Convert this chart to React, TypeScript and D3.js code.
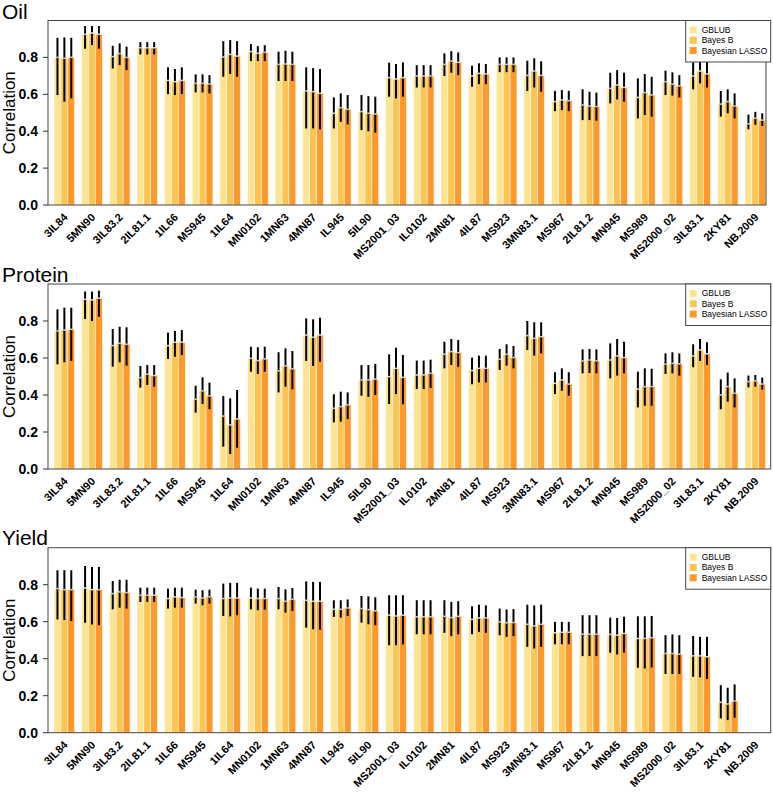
import React from "react";
import * as d3 from "d3";

const categories = ["3IL84","5MN90","3IL83.2","2IL81.1","1IL66","MS945","1IL64","MN0102","1MN63","4MN87","IL945","5IL90","MS2001_03","IL0102","2MN81","4IL87","MS923","3MN83.1","MS967","2IL81.2","MN945","MS989","MS2000_02","3IL83.1","2KY81","NB.2009"];
const methods = ["GBLUB", "Bayes B", "Bayesian LASSO"];
const methodColors = ["#FEE391", "#FEC44F", "#FE9929"];
const yTicks = [0, 0.2, 0.4, 0.6, 0.8];

// each entry: [lower, mean, upper]
type T = [number, number, number] | null;
const oilGblub: T[] = [[.596,.80,.906],[.847,.925,.97],[.74,.804,.863],[.816,.852,.883],[.601,.675,.746],[.61,.659,.708],[.695,.802,.888],[.78,.831,.872],[.672,.762,.831],[.415,.618,.746],[.415,.497,.583],[.406,.506,.596],[.587,.69,.771],[.637,.699,.758],[.699,.762,.822],[.641,.699,.755],[.72,.762,.80],[.618,.702,.782],[.509,.56,.619],[.46,.542,.627],[.551,.632,.717],[.469,.583,.686],[.596,.668,.728],[.627,.699,.773],[.479,.547,.618],[.41,.44,.49]];
const oilBayesB: T[] = [[.56,.795,.908],[.867,.932,.97],[.758,.82,.876],[.816,.852,.883],[.596,.668,.737],[.61,.659,.708],[.71,.816,.894],[.78,.822,.861],[.672,.764,.836],[.415,.614,.742],[.451,.527,.605],[.40,.497,.59],[.578,.683,.764],[.637,.699,.758],[.717,.78,.834],[.655,.713,.768],[.72,.762,.80],[.637,.726,.795],[.514,.569,.623],[.46,.536,.614],[.572,.65,.731],[.488,.609,.71],[.593,.655,.719],[.659,.726,.795],[.497,.56,.627],[.435,.47,.505]];
const oilLasso: T[] = [[.578,.80,.906],[.847,.925,.97],[.731,.80,.858],[.816,.852,.883],[.601,.675,.746],[.605,.655,.704],[.695,.807,.888],[.78,.827,.866],[.672,.762,.831],[.41,.605,.737],[.437,.518,.596],[.392,.493,.587],[.587,.69,.773],[.637,.699,.758],[.704,.773,.827],[.655,.71,.764],[.72,.762,.80],[.614,.702,.779],[.509,.565,.619],[.457,.533,.609],[.56,.637,.717],[.479,.596,.695],[.583,.645,.704],[.637,.71,.785],[.469,.536,.605],[.428,.46,.497]];

const proteinGblub: T[] = [[.566,.746,.863],[.811,.917,.959],[.553,.667,.757],[.44,.494,.557],[.595,.667,.737],[.305,.377,.45],[.121,.286,.395],[.526,.598,.661],[.414,.53,.631],[.584,.724,.814],[.252,.328,.404],[.396,.481,.562],[.351,.499,.62],[.432,.508,.586],[.544,.62,.688],[.458,.532,.602],[.535,.593,.649],[.643,.721,.80],[.405,.463,.523],[.517,.584,.647],[.49,.589,.679],[.333,.431,.526],[.514,.566,.625],[.55,.611,.674],[.323,.40,.485],[.441,.472,.505]];
const proteinBayesB: T[] = [[.577,.751,.872],[.80,.914,.959],[.577,.679,.769],[.454,.512,.562],[.607,.685,.746],[.351,.422,.495],[.081,.238,.382],[.514,.586,.658],[.445,.557,.652],[.557,.712,.809],[.256,.337,.418],[.39,.481,.562],[.405,.544,.656],[.432,.508,.586],[.562,.634,.703],[.468,.544,.613],[.559,.62,.674],[.613,.706,.793],[.423,.481,.544],[.519,.589,.649],[.505,.611,.703],[.342,.445,.544],[.517,.571,.631],[.584,.643,.703],[.364,.445,.521],[.445,.476,.508]];
const proteinLasso: T[] = [[.584,.755,.872],[.823,.923,.964],[.559,.674,.766],[.445,.505,.562],[.616,.685,.751],[.323,.395,.467],[.115,.27,.427],[.526,.595,.661],[.431,.541,.638],[.58,.724,.818],[.27,.346,.414],[.40,.485,.568],[.35,.495,.616],[.438,.517,.591],[.553,.629,.697],[.468,.544,.613],[.544,.602,.665],[.625,.715,.793],[.396,.459,.523],[.517,.584,.647],[.517,.602,.688],[.342,.445,.542],[.505,.568,.625],[.562,.622,.685],[.333,.409,.49],[.429,.459,.494]];

const yieldGblub: T[] = [[.612,.779,.878],[.594,.782,.901],[.667,.752,.82],[.707,.743,.784],[.671,.725,.779],[.698,.734,.773],[.631,.725,.806],[.667,.728,.784],[.667,.725,.788],[.568,.716,.818],[.626,.667,.716],[.595,.671,.739],[.473,.635,.743],[.532,.626,.716],[.54,.629,.716],[.532,.612,.683],[.527,.599,.671],[.464,.586,.692],[.478,.54,.599],[.414,.532,.635],[.432,.531,.622],[.351,.509,.629],[.317,.428,.527],[.302,.415,.523],[.077,.164,.257],null];
const yieldBayesB: T[] = [[.609,.773,.878],[.585,.773,.896],[.676,.761,.827],[.707,.743,.784],[.676,.734,.784],[.689,.728,.77],[.629,.728,.81],[.662,.725,.779],[.649,.71,.775],[.559,.71,.815],[.622,.667,.716],[.586,.665,.737],[.473,.631,.743],[.532,.626,.716],[.522,.622,.707],[.545,.62,.692],[.518,.594,.666],[.455,.577,.688],[.478,.543,.599],[.414,.532,.635],[.423,.527,.62],[.347,.509,.629],[.317,.428,.531],[.299,.415,.518],[.068,.155,.243],null];
const yieldLasso: T[] = [[.603,.773,.878],[.581,.773,.896],[.671,.757,.827],[.707,.743,.784],[.676,.73,.784],[.698,.734,.773],[.635,.728,.81],[.665,.725,.779],[.658,.721,.782],[.557,.71,.815],[.631,.674,.72],[.581,.658,.732],[.477,.635,.743],[.532,.626,.716],[.532,.629,.711],[.54,.62,.688],[.522,.595,.668],[.464,.586,.692],[.478,.543,.599],[.414,.532,.635],[.433,.536,.627],[.353,.513,.631],[.317,.424,.527],[.29,.41,.518],[.081,.171,.261],null];

const panels = [
  { title: "Oil", series: [oilGblub, oilBayesB, oilLasso], top: 20.5, bottom: 205, right: 766, titleY: 18.5 },
  { title: "Protein", series: [proteinGblub, proteinBayesB, proteinLasso], top: 284, bottom: 469, right: 770.7, titleY: 281.5 },
  { title: "Yield", series: [yieldGblub, yieldBayesB, yieldLasso], top: 547.7, bottom: 732.7, right: 770.7, titleY: 545 },
];

const LEFT = 48;
const FONT = "'Liberation Sans', Arial, Helvetica, sans-serif";

const x0 = d3.scaleBand<string>().domain(categories).range([54, 765.7]).paddingInner(0.25).paddingOuter(0);
const x1 = d3.scaleBand<string>().domain(methods).range([0, x0.bandwidth()]).padding(0);

function Panel({ p }: { p: typeof panels[number] }) {
  const y = d3.scaleLinear().domain([0, 1]).range([p.bottom, p.top]);
  const lx = 685.7, ly = p.top, lw = 85, lh = 41.5;
  return (
    <g>
      <text x={2} y={p.titleY} fontSize={21} fontFamily={FONT}>{p.title}</text>
      <text transform={`translate(15,${(p.top + p.bottom) / 2}) rotate(-90)`} textAnchor="middle" fontSize={17} fontFamily={FONT}>Correlation</text>
      {yTicks.map((t) => (
        <g key={t}>
          <line x1={LEFT - 5} x2={LEFT} y1={y(t)} y2={y(t)} stroke="#333" strokeWidth={1} />
          <text x={38} y={y(t)} dy="0.36em" textAnchor="end" fontSize={14} fontWeight="bold" fontFamily={FONT}>{d3.format(".1f")(t)}</text>
        </g>
      ))}
      {categories.map((c, i) => (
        <g key={c} transform={`translate(${x0(c)},0)`}>
          {methods.map((m, k) => {
            const d = p.series[k][i];
            if (!d) return null;
            const bx = x1(m)!;
            return (
              <rect key={m} x={bx} y={y(d[1])} width={x1.bandwidth()} height={y(0) - y(d[1])} fill={methodColors[k]} stroke="#fff" strokeWidth={0.6} />
            );
          })}
          {methods.map((m, k) => {
            const d = p.series[k][i];
            if (!d) return null;
            const cx = x1(m)! + x1.bandwidth() / 2;
            return (
              <g key={m}>
                <line x1={cx} x2={cx} y1={y(d[0])} y2={y(d[2])} stroke="#000" strokeWidth={2} />
                <rect x={cx - 1} y={y(d[1]) - 0.8} width={2} height={1.6} fill="#d9d9e6" />
              </g>
            );
          })}
          <text transform={`translate(${x0.bandwidth() / 2 + 4},${p.bottom + 13}) rotate(-45)`} textAnchor="end" fontSize={11} fontWeight="bold" fontFamily={FONT}>{c}</text>
        </g>
      ))}
      <rect x={LEFT} y={p.top} width={p.right - LEFT} height={p.bottom - p.top} fill="none" stroke="#444" strokeWidth={1} />
      <g>
        <rect x={lx} y={ly} width={lw} height={lh} fill="#fff" stroke="#444" strokeWidth={1} />
        {methods.map((m, k) => (
          <g key={m}>
            <rect x={lx + 4} y={ly + 6 + k * 10.3} width={7} height={7} fill={methodColors[k]} />
            <text x={lx + 16} y={ly + 9.5 + k * 10.3} dy="0.35em" fontSize={8.5} fontFamily={FONT}>{m}</text>
          </g>
        ))}
      </g>
    </g>
  );
}

export default function App() {
  return (
    <svg width={773} height={792} style={{ position: "absolute", left: 0, top: 0, display: "block", background: "#fff" }}>
      <rect width={773} height={792} fill="#fff" />
      {panels.map((p) => (
        <Panel key={p.title} p={p} />
      ))}
    </svg>
  );
}
